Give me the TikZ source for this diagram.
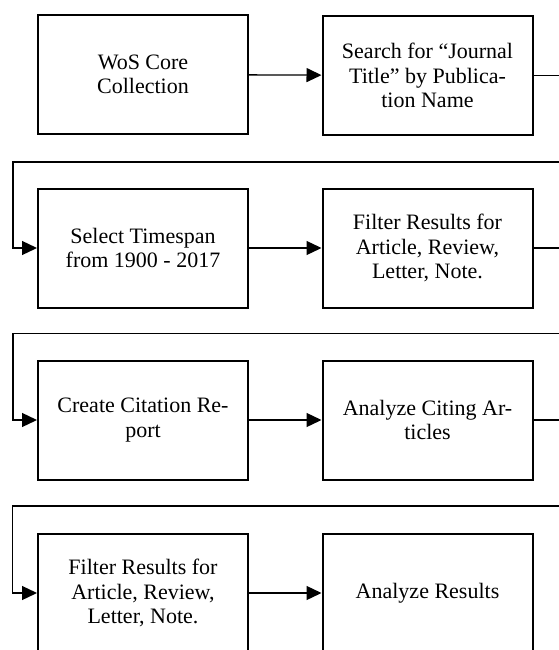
\documentclass[tikz,border=0pt]{standalone}
\usepackage{fontspec}
\setmainfont{Liberation Serif}
\usetikzlibrary{arrows.meta}
\begin{document}
\begin{tikzpicture}[x=1pt,y=-1pt,
  box/.style={draw, line width=2pt, minimum width=210pt, minimum height=119pt,
    inner sep=0pt, align=center, font=\fontsize{22}{24.5}\selectfont},
  conn/.style={line width=1.3pt, -{Triangle[length=15pt,width=14pt]}}]
\useasboundingbox (0,0) rectangle (558,650);
\node[box] (b1) at (143,74.5) {WoS Core\\Collection};
\node[box] (b2) at (427.5,75.5) {Search for “Journal\\Title” by Publica-\\tion Name};
\node[box] (b3) at (143,248) {Select Timespan\\from 1900 - 2017};
\node[box] (b4) at (427.5,248) {Filter Results for\\Article, Review,\\Letter, Note.};
\node[box] (b5) at (143,420) {Create Citation Re-\\port};
\node[box] (b6) at (427.5,420) {Analyze Citing Ar-\\ticles};
\node[box] (b7) at (143,593) {Filter Results for\\Article, Review,\\Letter, Note.};
\node[box] (b8) at (427.5,593) {Analyze Results};
\coordinate (r1) at (564,162);
\coordinate (l1) at (13,162);
\coordinate (r2) at (564,333.5);
\coordinate (l2) at (13,333.5);
\coordinate (r3) at (564,506);
\coordinate (l3) at (12.5,506);
\draw[conn] (b1) -- (b2);
\draw[conn] (b2.east) -| (r1) -- (l1) |- (b3.west);
\draw[conn] (b3) -- (b4);
\draw[conn] (b4.east) -| (r2) -- (l2) |- (b5.west);
\draw[conn] (b5) -- (b6);
\draw[conn] (b6.east) -| (r3) -- (l3) |- (b7.west);
\draw[conn] (b7) -- (b8);
\end{tikzpicture}
\end{document}
